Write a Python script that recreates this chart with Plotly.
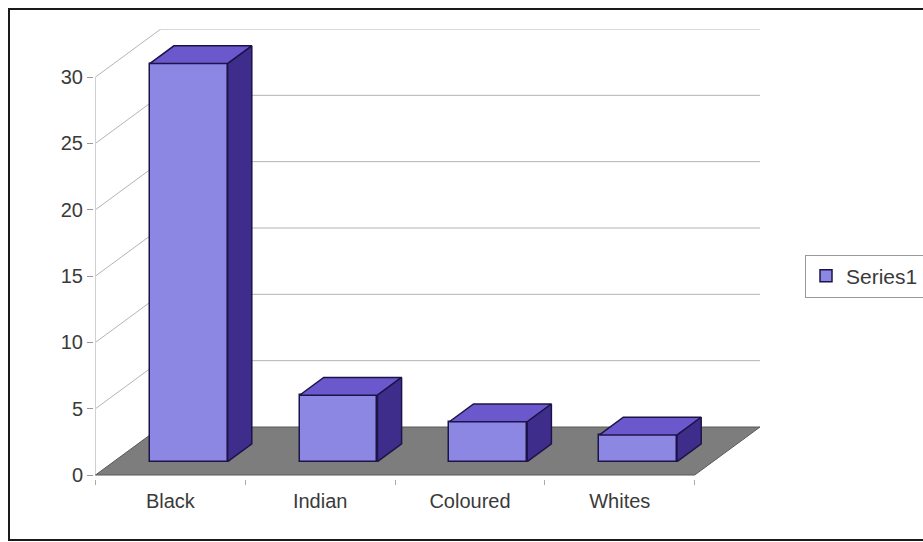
import plotly.graph_objects as go

# ---- data ----
categories = ["Black", "Indian", "Coloured", "Whites"]
values = [30, 5, 3, 2]
series_name = "Series1"
y_ticks = [0, 5, 10, 15, 20, 25, 30]

# ---- pseudo-3D geometry (in axis units) ----
DX = 0.436   # depth offset along x (category units)
DY = 3.62    # depth offset along y (value units)
W = 0.52     # bar width
D0, D1 = 0.28, 0.65  # bar depth start/end (fraction of floor depth)
YMAX = 30

FRONT = "#8c87e2"
TOP = "#6b58cc"
SIDE = "#3f2d8c"
EDGE = "#1c1448"
FLOOR = "#7d7d7d"
GRID = "#b4b4b4"
TEXT = "#3a3a3a"

n = len(categories)
xs = list(range(n))

fig = go.Figure()

# front faces as real bars
fig.add_trace(go.Bar(
    x=[c + D0 * DX for c in xs], y=values, base=[D0 * DY] * n,
    width=W, name=series_name, showlegend=True,
    marker=dict(color=FRONT, line=dict(color=EDGE, width=1.5)),
    hoverinfo="skip",
))

# top and side faces
for i, (c, v) in enumerate(zip(xs, values)):
    xl, xr = c - W / 2, c + W / 2
    top_x = [xl + D0 * DX, xr + D0 * DX, xr + D1 * DX, xl + D1 * DX, xl + D0 * DX]
    top_y = [v + D0 * DY, v + D0 * DY, v + D1 * DY, v + D1 * DY, v + D0 * DY]
    fig.add_trace(go.Scatter(x=top_x, y=top_y, mode="lines", fill="toself",
                             fillcolor=TOP, line=dict(color=EDGE, width=1.5),
                             showlegend=False, hoverinfo="skip"))
    side_x = [xr + D0 * DX, xr + D1 * DX, xr + D1 * DX, xr + D0 * DX, xr + D0 * DX]
    side_y = [D0 * DY, D1 * DY, v + D1 * DY, v + D0 * DY, D0 * DY]
    fig.add_trace(go.Scatter(x=side_x, y=side_y, mode="lines", fill="toself",
                             fillcolor=SIDE, line=dict(color=EDGE, width=1.5),
                             showlegend=False, hoverinfo="skip"))

shapes = []
xL, xR = -0.5, n - 0.5
# gridlines: side wall diagonals + back wall horizontals
for t in y_ticks:
    if t == 0:
        continue
    shapes.append(dict(type="line", xref="x", yref="y", layer="below",
                       x0=xL, y0=t, x1=xL + DX, y1=t + DY,
                       line=dict(color=GRID, width=1)))
    shapes.append(dict(type="line", xref="x", yref="y", layer="below",
                       x0=xL + DX, y0=t + DY, x1=xR + DX, y1=t + DY,
                       line=dict(color=GRID, width=1)))
# front vertical axis line
shapes.append(dict(type="line", xref="x", yref="y", layer="below",
                   x0=xL, y0=0, x1=xL, y1=YMAX, line=dict(color="#d0d0d0", width=1)))
# floor
floor_path = (f"M{xL},0 L{xR},0 L{xR + DX},{DY} L{xL + DX},{DY} Z")
shapes.append(dict(type="path", xref="x", yref="y", layer="below", path=floor_path,
                   fillcolor=FLOOR, line=dict(color="#5a5a5a", width=1)))

# outer chart border (paper coords)
L_M, R_M, T_M, B_M = 94, 163, 29, 63
PW, PH = 923 - L_M - R_M, 542 - T_M - B_M
def px_to_paper_x(px):
    return (px - L_M) / PW
def px_to_paper_y(py):
    return (542 - B_M - py) / PH
shapes.append(dict(type="rect", xref="paper", yref="paper", layer="above",
                   x0=px_to_paper_x(9), x1=px_to_paper_x(940),
                   y0=px_to_paper_y(540), y1=px_to_paper_y(9),
                   line=dict(color="#1a1a1a", width=2)))

fig.update_layout(
    width=923, height=542, autosize=False,
    margin=dict(l=L_M, r=R_M, t=T_M, b=B_M, autoexpand=False),
    paper_bgcolor="white", plot_bgcolor="white",
    font=dict(family="Liberation Sans, Arial, sans-serif", size=20, color=TEXT),
    shapes=shapes,
    bargap=0,
    showlegend=True,
    legend=dict(x=px_to_paper_x(805), y=px_to_paper_y(276), xanchor="left", yanchor="middle",
                bordercolor="#9a9a9a", borderwidth=1, bgcolor="white",
                font=dict(size=21, color=TEXT), itemwidth=30),
    xaxis=dict(range=[-0.51, xR + DX], tickmode="array", tickvals=xs, ticktext=categories,
               ticks="", showgrid=False, zeroline=False, showline=False,
               ticklabelstandoff=8,
               minor=dict(tickmode="array", tickvals=[k - 0.5 for k in range(n + 1)],
                          ticks="outside", ticklen=5, tickcolor="#aaaaaa", showgrid=False),
               fixedrange=True),
    yaxis=dict(range=[-0.3, YMAX + DY], tickmode="array", tickvals=y_ticks,
               ticks="outside", ticklen=6, tickcolor="#999999",
               showgrid=False, zeroline=False, showline=False, fixedrange=True),
)

fig.write_html("out.html")
